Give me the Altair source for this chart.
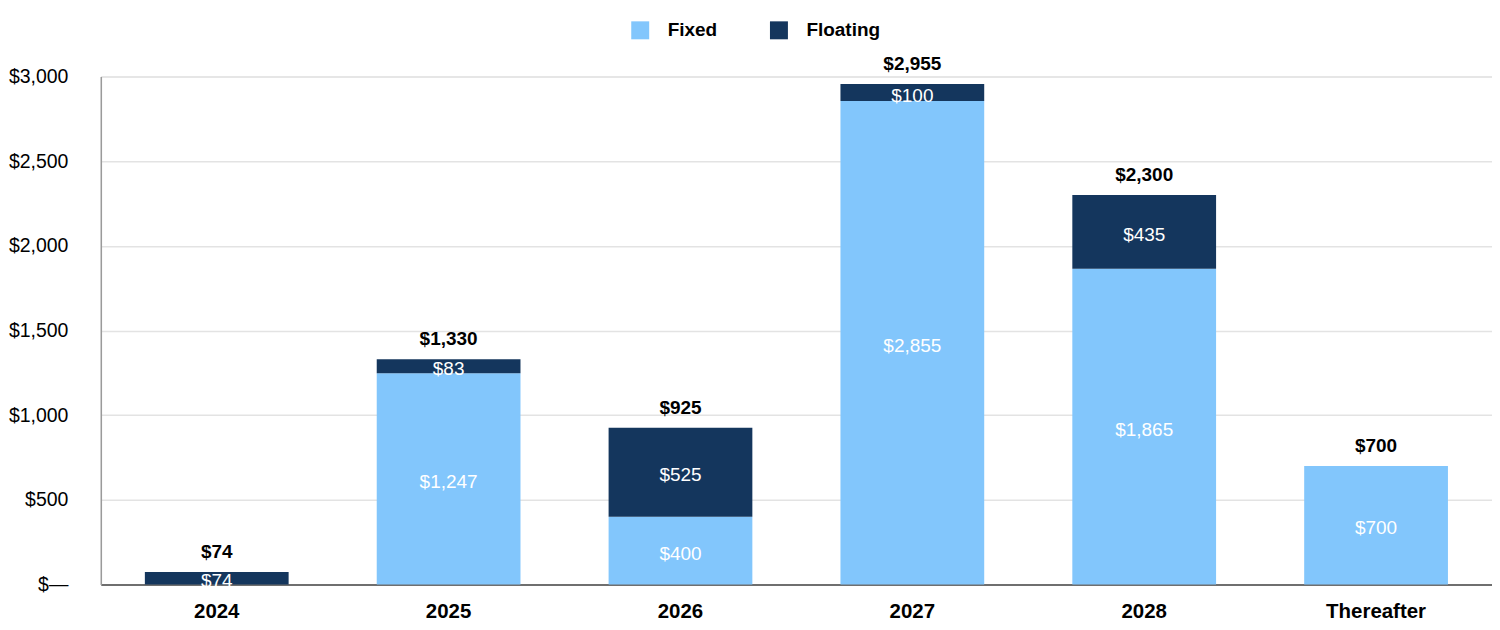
import altair as alt
import pandas as pd

categories = ["2024", "2025", "2026", "2027", "2028", "Thereafter"]
fixed = [0, 1247, 400, 2855, 1865, 700]
floating = [74, 83, 525, 100, 435, 0]
totals = [74, 1330, 925, 2955, 2300, 700]
series = ["Fixed", "Floating"]
colors = ["#82C6FC", "#14365D"]

rows = []
for i, c in enumerate(categories):
    rows.append({"cat": c, "series": "Fixed", "ord": 0, "value": fixed[i]})
    rows.append({"cat": c, "series": "Floating", "ord": 1, "value": floating[i]})
df = pd.DataFrame(rows)
tot = pd.DataFrame({"cat": categories, "total": totals})

FONT = "Liberation Sans"

x = alt.X("cat:N", sort=categories, title=None,
          scale=alt.Scale(paddingInner=0.38, paddingOuter=0.19),
          axis=alt.Axis(labelFont=FONT, labelFontSize=20.5, labelFontWeight="bold",
                        labelColor="#000000", labelPadding=17, ticks=False,
                        domainColor="#6f6f6f", domainWidth=2, labelAngle=0))

y_scale = alt.Scale(domain=[0, 3000], nice=False)

bars = alt.Chart(df).mark_bar().encode(
    x=x,
    y=alt.Y("value:Q", stack="zero", scale=y_scale, title=None,
            axis=alt.Axis(values=[0, 500, 1000, 1500, 2000, 2500, 3000],
                          labelExpr="datum.value == 0 ? '$\u2014' : '$' + format(datum.value, ',')",
                          labelFont=FONT, labelFontSize=19.5, labelColor="#000000",
                          labelPadding=33, ticks=False, domainColor="#9a9a9a",
                          domainWidth=1.5, gridColor="#e3e3e3", gridWidth=1.5)),
    color=alt.Color("series:N", sort=series,
                    scale=alt.Scale(domain=series, range=colors),
                    legend=alt.Legend(title=None, orient="none", direction="horizontal",
                                      legendX=531, legendY=-56,
                                      symbolType="square", symbolSize=324,
                                      symbolStrokeWidth=0, symbolOpacity=1,
                                      labelFont=FONT, labelFontSize=19,
                                      labelFontWeight="bold", labelColor="#000000",
                                      labelOffset=18, columnPadding=52, padding=0)),
    order=alt.Order("ord:Q", sort="ascending"),
)

seg = alt.Chart(df).transform_filter("datum.value > 0").transform_stack(
    stack="value", groupby=["cat"], as_=["v0", "v1"],
    sort=[alt.SortField("ord", order="ascending")]
).transform_calculate(
    mid="(datum.v0 + datum.v1) / 2",
    lab="'$' + format(datum.value, ',')"
).mark_text(font=FONT, fontSize=19, color="white", baseline="middle", dy=3).encode(
    x=alt.X("cat:N", sort=categories),
    y=alt.Y("mid:Q", scale=y_scale),
    text="lab:N",
)

totlab = alt.Chart(tot).transform_calculate(
    lab="'$' + format(datum.total, ',')"
).mark_text(font=FONT, fontSize=19, fontWeight="bold", color="black",
            baseline="middle", dy=-20).encode(
    x=alt.X("cat:N", sort=categories),
    y=alt.Y("total:Q", scale=y_scale),
    text="lab:N",
)

chart = alt.layer(bars, seg, totlab).properties(
    width=1394, height=509,
    autosize=alt.AutoSizeParams(type="none"),
    padding={"left": 93, "top": 68, "right": 0, "bottom": 38},
).configure_view(stroke=None).configure(background="white")

chart.save("out.html", embed_options={"renderer": "svg", "actions": False})
